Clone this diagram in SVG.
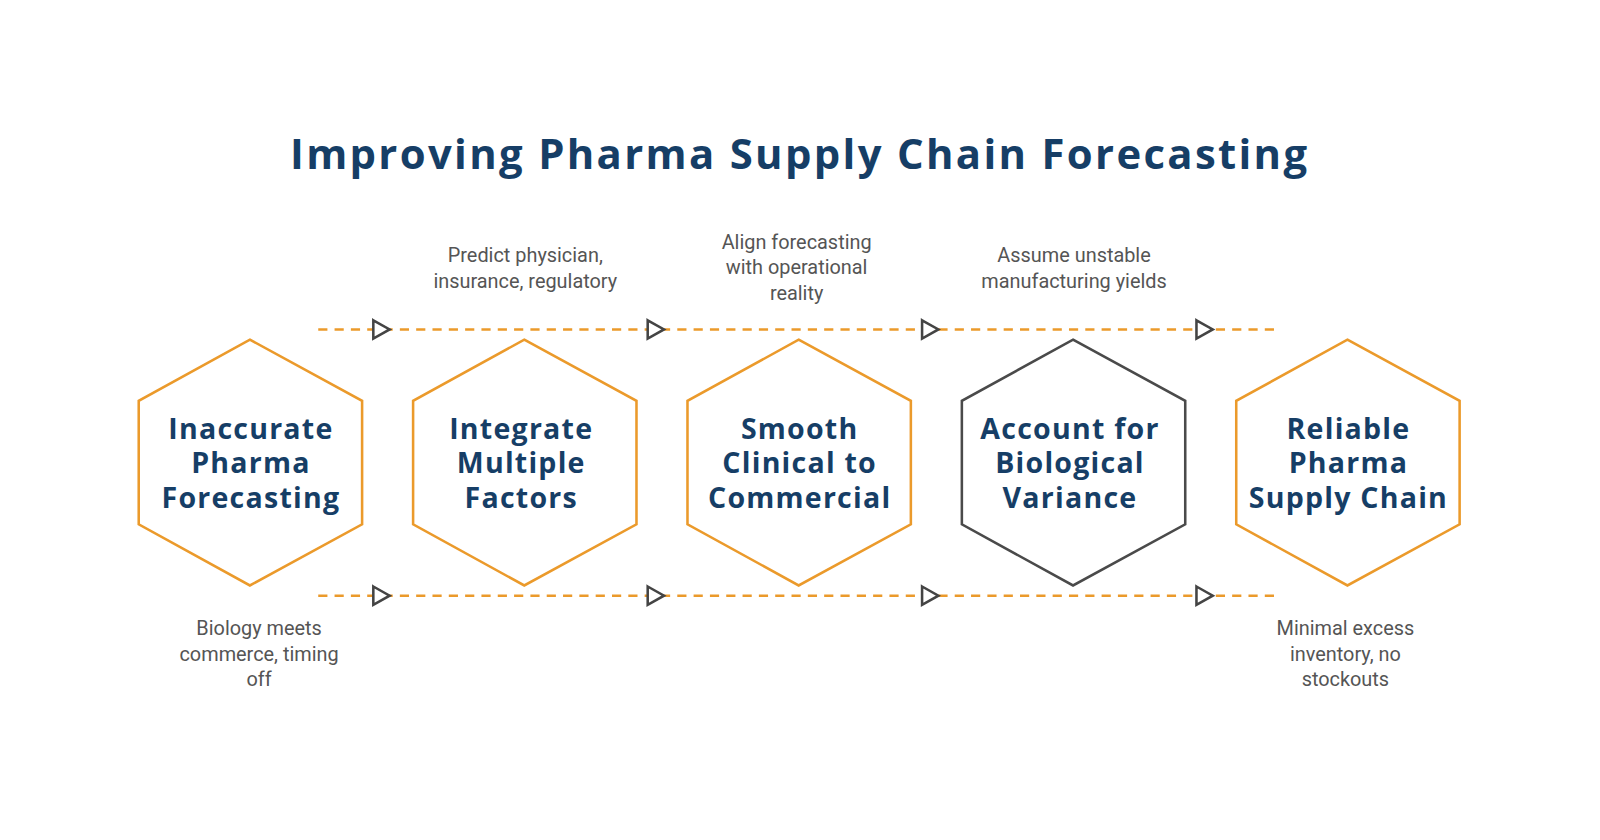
<svg xmlns="http://www.w3.org/2000/svg" width="1600" height="840" viewBox="0 0 1600 840">
<style>
.hex{fill:none;stroke:#EB9A2B;stroke-width:2.5}
.hexd{fill:none;stroke:#4A4A4A;stroke-width:2.5}
.lbl{font-family:"Open Sans","Liberation Sans",sans-serif;font-weight:700;font-size:28px;fill:#163E66;text-anchor:middle;letter-spacing:1.2px}
.note{font-family:Roboto,"Liberation Sans",sans-serif;font-size:19.5px;fill:#555;text-anchor:middle}
.dash{stroke:#EB9A2B;stroke-width:2.5;stroke-dasharray:9,7;fill:none}
.arr{fill:#fff;stroke:#444;stroke-width:2.5;stroke-linejoin:miter}
</style>
<rect width="1600" height="840" fill="#fff"/>
<g transform="scale(1.02)">
<text x="784" y="166" font-family="'Open Sans','Liberation Sans',sans-serif" font-weight="700" font-size="41" fill="#163E66" text-anchor="middle" letter-spacing="2.3">Improving Pharma Supply Chain Forecasting</text>
<g id="connectors">
<line class="dash" x1="312" y1="323" x2="1256" y2="323"/>
<line class="dash" x1="312" y1="584" x2="1256" y2="584"/>
<path class="arr" d="M366 314 L382 323 L366 332 Z"/>
<path class="arr" d="M635 314 L651 323 L635 332 Z"/>
<path class="arr" d="M904 314 L920 323 L904 332 Z"/>
<path class="arr" d="M1173 314 L1189 323 L1173 332 Z"/>
<path class="arr" d="M366 575 L382 584 L366 593 Z"/>
<path class="arr" d="M635 575 L651 584 L635 593 Z"/>
<path class="arr" d="M904 575 L920 584 L904 593 Z"/>
<path class="arr" d="M1173 575 L1189 584 L1173 593 Z"/>
</g>
<g id="n1"><path class="hex" d="M245 333 L355 393 L355 514 L245 574 L136 514 L136 393 Z"/>
<text class="lbl"><tspan x="246" y="430">Inaccurate</tspan><tspan x="246" y="464">Pharma</tspan><tspan x="246" y="498">Forecasting</tspan></text></g>
<g id="n2"><path class="hex" d="M514 333 L624 393 L624 514 L514 574 L405 514 L405 393 Z"/>
<text class="lbl"><tspan x="511" y="430">Integrate</tspan><tspan x="511" y="464">Multiple</tspan><tspan x="511" y="498">Factors</tspan></text></g>
<g id="n3"><path class="hex" d="M783 333 L893 393 L893 514 L783 574 L674 514 L674 393 Z"/>
<text class="lbl"><tspan x="784" y="430">Smooth</tspan><tspan x="784" y="464">Clinical to</tspan><tspan x="784" y="498">Commercial</tspan></text></g>
<g id="n4"><path class="hexd" d="M1052 333 L1162 393 L1162 514 L1052 574 L943 514 L943 393 Z"/>
<text class="lbl"><tspan x="1049" y="430">Account for</tspan><tspan x="1049" y="464">Biological</tspan><tspan x="1049" y="498">Variance</tspan></text></g>
<g id="n5"><path class="hex" d="M1321 333 L1431 393 L1431 514 L1321 574 L1212 514 L1212 393 Z"/>
<text class="lbl"><tspan x="1322" y="430">Reliable</tspan><tspan x="1322" y="464">Pharma</tspan><tspan x="1322" y="498">Supply Chain</tspan></text></g>
<g id="notes">
<text class="note"><tspan x="515" y="257">Predict physician,</tspan><tspan x="515" y="282">insurance, regulatory</tspan></text>
<text class="note"><tspan x="781" y="244">Align forecasting</tspan><tspan x="781" y="269">with operational</tspan><tspan x="781" y="294">reality</tspan></text>
<text class="note"><tspan x="1053" y="257">Assume unstable</tspan><tspan x="1053" y="282">manufacturing yields</tspan></text>
<text class="note"><tspan x="254" y="623">Biology meets</tspan><tspan x="254" y="648">commerce, timing</tspan><tspan x="254" y="673">off</tspan></text>
<text class="note"><tspan x="1319" y="623">Minimal excess</tspan><tspan x="1319" y="648">inventory, no</tspan><tspan x="1319" y="673">stockouts</tspan></text>
</g>
</g>
</svg>
